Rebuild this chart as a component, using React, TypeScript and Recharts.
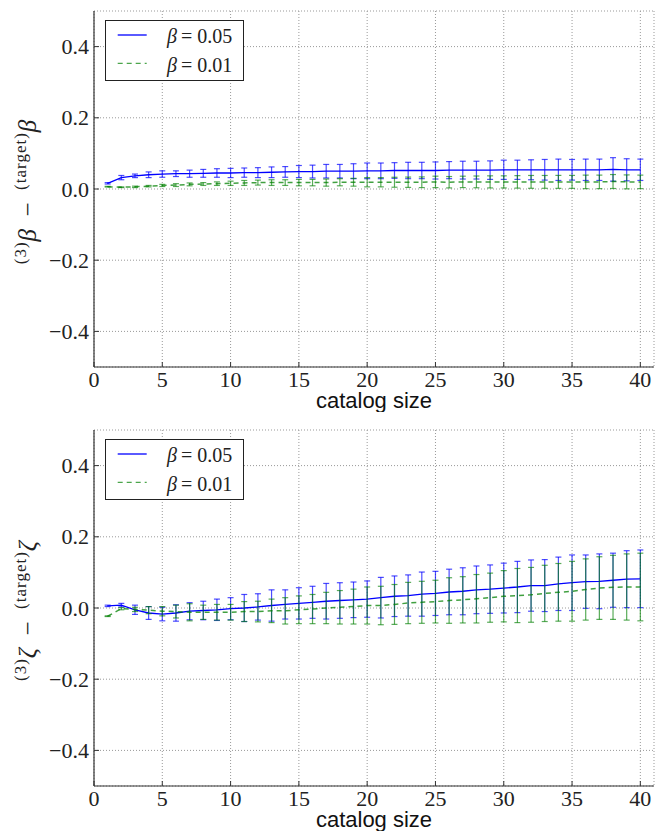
import React from 'react'
import {
  ComposedChart, Line, XAxis, YAxis, CartesianGrid, ErrorBar, Legend
} from 'recharts'

const catalogSize = [
  1, 2, 3, 4, 5, 6, 7, 8, 9, 10, 11, 12, 13, 14, 15, 16, 17, 18, 19, 20,
  21, 22, 23, 24, 25, 26, 27, 28, 29, 30, 31, 32, 33, 34, 35, 36, 37, 38, 39, 40,
]

// top panel: (3)beta - (target)beta
const betaHi = [
  0.016, 0.032, 0.037, 0.040, 0.042, 0.043, 0.043, 0.044, 0.045, 0.045,
  0.046, 0.046, 0.047, 0.048, 0.049, 0.049, 0.050, 0.050, 0.050, 0.051,
  0.051, 0.052, 0.052, 0.052, 0.052, 0.053, 0.053, 0.053, 0.053, 0.054,
  0.054, 0.054, 0.054, 0.054, 0.054, 0.054, 0.054, 0.055, 0.054, 0.054,
]
const betaHiErr = [
  0.002, 0.006, 0.005, 0.008, 0.009, 0.008, 0.010, 0.011, 0.012, 0.013,
  0.013, 0.014, 0.015, 0.015, 0.017, 0.018, 0.019, 0.019, 0.021, 0.022,
  0.022, 0.022, 0.023, 0.023, 0.024, 0.024, 0.025, 0.025, 0.026, 0.027,
  0.027, 0.028, 0.029, 0.030, 0.029, 0.030, 0.030, 0.033, 0.031, 0.030,
]
const betaLo = [
  0.0065, 0.005, 0.006, 0.008, 0.010, 0.011, 0.013, 0.014, 0.015, 0.016,
  0.017, 0.018, 0.018, 0.018, 0.018, 0.018, 0.018, 0.019, 0.019, 0.019,
  0.019, 0.019, 0.019, 0.019, 0.020, 0.019, 0.020, 0.020, 0.020, 0.020,
  0.020, 0.020, 0.020, 0.020, 0.020, 0.020, 0.020, 0.021, 0.020, 0.020,
]
const betaLoErr = [
  0.001, 0.001, 0.002, 0.002, 0.003, 0.004, 0.004, 0.004, 0.005, 0.006,
  0.007, 0.007, 0.008, 0.008, 0.009, 0.009, 0.010, 0.010, 0.011, 0.013,
  0.013, 0.014, 0.0145, 0.015, 0.016, 0.016, 0.016, 0.0165, 0.017, 0.017,
  0.0175, 0.018, 0.018, 0.0182, 0.0182, 0.019, 0.019, 0.0196, 0.0196, 0.019,
]

// bottom panel: (3)zeta - (target)zeta
const zetaHi = [
  0.006, 0.008, -0.005, -0.014, -0.017, -0.014, -0.009, -0.007, -0.005, -0.002,
  0.000, 0.003, 0.007, 0.010, 0.013, 0.016, 0.019, 0.021, 0.023, 0.025,
  0.029, 0.033, 0.035, 0.039, 0.041, 0.045, 0.047, 0.051, 0.053, 0.056,
  0.059, 0.063, 0.063, 0.068, 0.071, 0.074, 0.075, 0.078, 0.081, 0.082,
]
const zetaHiErr = [
  0.002, 0.005, 0.013, 0.018, 0.019, 0.023, 0.024, 0.026, 0.030, 0.031,
  0.038, 0.037, 0.044, 0.041, 0.044, 0.045, 0.050, 0.050, 0.050, 0.051,
  0.057, 0.057, 0.058, 0.062, 0.062, 0.064, 0.066, 0.067, 0.068, 0.070,
  0.072, 0.072, 0.073, 0.075, 0.078, 0.075, 0.077, 0.076, 0.080, 0.081,
]
const zetaLo = [
  -0.023, -0.002, -0.004, -0.006, -0.009, -0.010, -0.012, -0.012, -0.012, -0.012,
  -0.010, -0.010, -0.008, -0.008, -0.005, -0.003, 0.000, 0.002, 0.004, 0.007,
  0.007, 0.010, 0.014, 0.016, 0.018, 0.021, 0.023, 0.026, 0.029, 0.033,
  0.035, 0.037, 0.041, 0.044, 0.047, 0.052, 0.056, 0.058, 0.059, 0.059,
]
const zetaLoErr = [
  0.001, 0.003, 0.006, 0.010, 0.013, 0.018, 0.024, 0.020, 0.022, 0.022,
  0.028, 0.029, 0.033, 0.037, 0.039, 0.041, 0.044, 0.047, 0.049, 0.052,
  0.054, 0.056, 0.058, 0.059, 0.060, 0.064, 0.065, 0.068, 0.069, 0.072,
  0.076, 0.077, 0.079, 0.081, 0.084, 0.086, 0.088, 0.090, 0.093, 0.095,
]

const xTicks = [0, 5, 10, 15, 20, 25, 30, 35, 40]
const yTicks = [-0.4, -0.2, 0, 0.2, 0.4]
const betaLabels = ['0.05', '0.01']

const BLUE = '#0000ff'
const GREEN = '#008000'
const FRAME = '#333'
const SERIF = 'Liberation Serif'

const fmtY = (v: number) => (v < 0 ? '\u2212' : '') + Math.abs(v).toFixed(1)

function XTick({ x, y, payload }: any) {
  return (
    <text x={x} y={y} dy={16} textAnchor="middle" fontFamily={SERIF} fontSize={22} fill="#222">
      {payload.value}
    </text>
  )
}

function YTick({ x, y, payload }: any) {
  return (
    <text x={x} y={y} dy={7.5} textAnchor="end" fontFamily={SERIF} fontSize={22} fill="#222">
      {fmtY(payload.value)}
    </text>
  )
}

function Key() {
  return (
    <div style={{
      width: 139, height: 61, border: '1px solid #222', background: '#fff',
      boxSizing: 'border-box',
    }}>
      <svg width={137} height={59} style={{ display: 'block' }}>
        {betaLabels.map((b, i) => (
          <g key={b}>
            <line x1={11.7} x2={40.7} y1={14 + i * 28.3} y2={14 + i * 28.3}
              stroke={i === 0 ? BLUE : GREEN} strokeWidth={1.3}
              strokeOpacity={i === 0 ? 1 : 0.7}
              strokeDasharray={i === 0 ? undefined : '5 4'} />
            <text x={61} y={22.3 + i * 28.4} fontFamily={SERIF} fontSize={20} fill="#222">
              <tspan fontStyle="italic">β</tspan>{'\u2009= '}{b}
            </text>
          </g>
        ))}
      </svg>
    </div>
  )
}

function YLabel({ viewBox, sym }: any) {
  const cy = viewBox.y + viewBox.height / 2 + 3
  return (
    <text transform={`translate(36, ${cy}) rotate(-90)`} textAnchor="middle"
      fontFamily={SERIF} fontSize={25} fill="#222">
      <tspan fontSize={17} dy={-10} letterSpacing={1}>(3)</tspan>
      <tspan fontStyle="italic" dy={10}>{sym}</tspan>
      <tspan>{'\u2002\u2212\u2002'}</tspan>
      <tspan fontSize={17} dy={-10} letterSpacing={1}>(target)</tspan>
      <tspan fontStyle="italic" dy={10}>{sym}</tspan>
    </text>
  )
}

function XLabel({ viewBox }: any) {
  return (
    <text x={viewBox.x + viewBox.width / 2} y={viewBox.y + 41} textAnchor="middle"
      fontFamily="Liberation Sans" fontSize={22} fill="#111">
      catalog size
    </text>
  )
}

function Panel({ hi, hiErr, lo, loErr, sym }: {
  hi: number[]; hiErr: number[]; lo: number[]; loErr: number[]; sym: string
}) {
  const rows = catalogSize.map((n, i) => ({
    n, hi: hi[i], hiErr: hiErr[i], lo: lo[i], loErr: loErr[i],
  }))

  return (
    <ComposedChart width={667} height={412} data={rows}
      margin={{ top: 11, right: 13, bottom: 0, left: 0 }}>
      <CartesianGrid xAxisId="b" yAxisId="l" stroke="#999" strokeDasharray="1 2" />
      <XAxis xAxisId="b" dataKey="n" type="number" domain={[0, 41]} ticks={xTicks}
        allowDataOverflow height={45} tickSize={-5} tickMargin={9}
        axisLine={{ stroke: FRAME, strokeWidth: 1.2 }} tickLine={{ stroke: FRAME }}
        tick={<XTick />} interval={0}
        label={(p: any) => <XLabel viewBox={p.viewBox} />} />
      <XAxis xAxisId="t" orientation="top" type="number" domain={[0, 41]} ticks={xTicks}
        allowDataOverflow height={0} tickSize={-5} tickFormatter={() => ''}
        axisLine={{ stroke: FRAME, strokeWidth: 1.2 }} tickLine={{ stroke: FRAME }} />
      <YAxis yAxisId="l" type="number" domain={[-0.5, 0.5]} ticks={yTicks}
        allowDataOverflow width={94} tickSize={-5} tickMargin={10} interval={0}
        axisLine={{ stroke: FRAME, strokeWidth: 1.2 }} tickLine={{ stroke: FRAME }}
        tick={<YTick />}
        label={(p: any) => <YLabel viewBox={p.viewBox} sym={sym} />} />
      <YAxis yAxisId="r" orientation="right" type="number" domain={[-0.5, 0.5]}
        ticks={yTicks} allowDataOverflow width={0} tickSize={-5} tickFormatter={() => ''}
        axisLine={{ stroke: FRAME, strokeWidth: 1.2 }} tickLine={{ stroke: FRAME }} />
      <Legend layout="vertical" align="center" verticalAlign="middle"
        wrapperStyle={{ left: 105, top: 20, width: 139, height: 61 }}
        content={() => <Key />} />
      <Line xAxisId="b" yAxisId="l" dataKey="hi" name="β = 0.05" type="linear"
        stroke={BLUE} strokeWidth={1.3} dot={false} isAnimationActive={false}>
        <ErrorBar dataKey="hiErr" direction="y" width={3} stroke={BLUE}
          strokeOpacity={0.7} strokeWidth={1.2} isAnimationActive={false} />
      </Line>
      <Line xAxisId="b" yAxisId="l" dataKey="lo" name="β = 0.01" type="linear"
        stroke={GREEN} strokeOpacity={0.75} strokeWidth={1.5} strokeDasharray="5 4"
        dot={false} isAnimationActive={false}>
        <ErrorBar dataKey="loErr" direction="y" width={3} stroke={GREEN}
          strokeOpacity={0.65} strokeWidth={1.2} isAnimationActive={false} />
      </Line>
    </ComposedChart>
  )
}

export default function App() {
  return (
    <div style={{
      position: 'absolute', left: 0, top: 0, width: 667, height: 831,
      background: '#fff', overflow: 'hidden',
    }}>
      <div style={{ position: 'absolute', left: 0, top: 0 }}>
        <Panel hi={betaHi} hiErr={betaHiErr} lo={betaLo} loErr={betaLoErr} sym="β" />
      </div>
      <div style={{ position: 'absolute', left: 0, top: 419 }}>
        <Panel hi={zetaHi} hiErr={zetaHiErr} lo={zetaLo} loErr={zetaLoErr} sym="ζ" />
      </div>
    </div>
  )
}
